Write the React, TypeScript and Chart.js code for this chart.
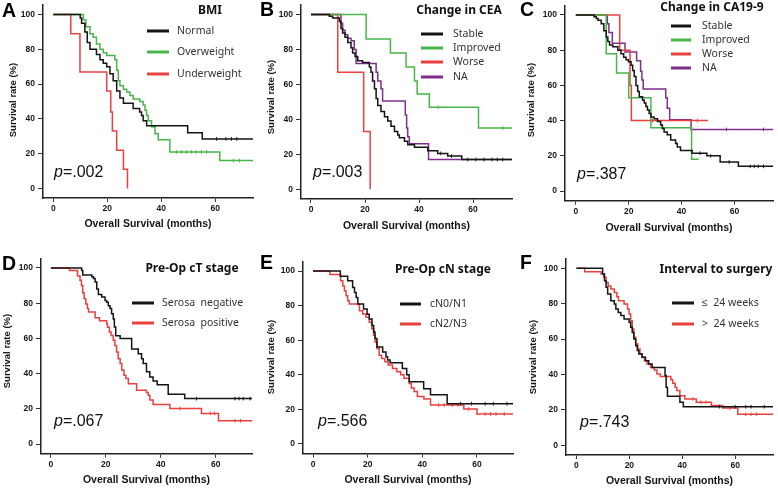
import { useEffect, useRef } from 'react';
import { Chart, registerables } from 'chart.js';

Chart.register(...registerables);

type KM = [number, number][];

// Kaplan-Meier steps: [month, survival % from that month on]
const A_NORMAL: KM = [[0, 100], [10, 98], [10.5, 95], [11.7, 90], [12.6, 84], [13.6, 80], [16, 77], [17.3, 74], [18.5, 72], [19.8, 70], [21, 66], [22.2, 62], [23.5, 56], [24.7, 52], [26, 49], [29.6, 46], [32, 44], [32.7, 42], [33.3, 39], [34.6, 36], [49.8, 32], [55.2, 28.5], [74, 28.5]];
const A_OVER: KM = [[0, 100], [11.1, 97], [12.1, 93], [13.6, 89], [14.8, 87], [16, 83], [17.3, 80], [18.5, 78], [19.8, 76.5], [22.8, 74], [23.5, 68], [24.1, 62], [24.7, 59], [26, 57], [27.2, 55.5], [28.4, 53.5], [29.6, 51.5], [32, 50], [33.3, 48], [34, 45], [34.6, 42], [35.2, 39], [36.4, 35.5], [37.7, 31.5], [38.9, 28], [43.2, 21], [61.7, 16], [74, 16]];
const A_UNDER: KM = [[0, 100], [6.5, 89], [9.9, 67], [19.8, 56], [21.3, 44], [21.9, 33], [23.5, 22], [26, 11], [27.5, 0]];
const A_NORMAL_CENS = [60.5, 64, 66, 68];
const A_OVER_CENS = [45.7, 47.5, 49.4, 51.2, 53, 54.9, 56.8, 66.7, 69];

const B_STABLE: KM = [[0, 100], [6.8, 99], [8, 98], [10.5, 96], [11.1, 92], [11.7, 89.5], [12.6, 87], [13.6, 84], [14.8, 81], [15.4, 78], [16.3, 76], [17.3, 73.5], [19.1, 72.5], [21.6, 70], [22.2, 67], [22.8, 62], [23.5, 57.5], [24.1, 52], [24.7, 48], [25.9, 44.5], [27.2, 41.5], [28.4, 39], [29.6, 36], [30.9, 33], [32.1, 31], [32.7, 29.5], [34.6, 27.5], [35.8, 25.5], [38.3, 24], [43.2, 22], [46.9, 20.5], [50.6, 19], [55.8, 17], [74.4, 17]];
const B_IMPROVED: KM = [[0, 100], [20.4, 86], [29.4, 78], [35.2, 70], [38.3, 62], [39.3, 54.5], [43.8, 47], [62, 35], [74.4, 35]];
const B_WORSE: KM = [[0, 100], [9.9, 67], [19.5, 33], [21.9, 0]];
const B_NA: KM = [[0, 100], [11.1, 95], [11.7, 91], [12.6, 88.5], [13.6, 86.5], [14.8, 85], [16, 80], [16.7, 72], [24.1, 67], [24.7, 62], [25.9, 57.5], [26.5, 50.5], [34.9, 42.5], [35.4, 35], [35.8, 30], [36.4, 26], [43.5, 17], [74.4, 17]];
const B_STABLE_CENS = [48, 52, 58, 61, 64, 67, 69, 71];
const B_IMPROVED_CENS = [47, 71];

const C_STABLE: KM = [[0, 100], [6.9, 99], [7.75, 98], [8.4, 97], [9.6, 95], [10.6, 91], [11.5, 87.5], [12.1, 85], [12.75, 83], [14, 82], [15.9, 80], [17.1, 78], [18.1, 76], [19, 74.5], [19.9, 73.5], [20.9, 71.5], [21.5, 68.5], [22.1, 65], [22.75, 60], [23.4, 56.5], [24, 53.5], [25.25, 51.5], [25.9, 50], [26.5, 48], [27.1, 46], [27.75, 44], [28.4, 42], [29.6, 41], [30.9, 39.5], [32.1, 37.5], [32.75, 35.5], [33.4, 33.5], [34.6, 32], [35.9, 29], [37.75, 27], [38.4, 25], [39.6, 23], [44, 21.5], [49.6, 20], [54.6, 16.5], [61.5, 14], [74.6, 14]];
const C_IMPROVED: KM = [[0, 100], [11.5, 78], [15.4, 67], [20, 53], [28.4, 36], [43.8, 18], [46.5, 18]];
const C_WORSE: KM = [[0, 100], [16.6, 80], [20.5, 60], [21, 40], [50, 40]];
const C_NA: KM = [[0, 100], [11.9, 95], [12.5, 90], [13.8, 84], [18.6, 79], [23, 74], [24.5, 68], [25, 63], [25.5, 58], [34, 53], [34.6, 47], [35.5, 40.5], [43.6, 35], [74.6, 35]];
const C_STABLE_CENS = [47, 51, 58, 66, 67.5, 69, 71];
const C_WORSE_CENS = [29, 46];
const C_NA_CENS = [57, 71];

const D_NEG: KM = [[0, 100], [11.2, 98.5], [11.6, 96], [14.9, 95], [15.5, 94], [16.1, 92], [16.7, 88], [17.3, 85], [18.5, 83.5], [19.7, 81.5], [20.3, 80.5], [20.9, 78.5], [21.5, 77], [22.1, 74], [22.7, 71], [23.1, 66.5], [23.6, 61.5], [25.2, 60], [29.4, 54], [31.8, 51.3], [33, 48.5], [33.6, 45.7], [34.8, 41], [36, 38], [37.2, 35.8], [38.7, 33.6], [42.7, 28.3], [48.7, 25.8], [73.2, 25.8]];
const D_POS: KM = [[0, 100], [6.8, 98.5], [9.7, 95.5], [10.6, 93], [11.1, 90], [11.6, 86], [12.1, 82.5], [12.7, 79.5], [13.3, 77], [13.7, 75], [16.1, 71.7], [17.7, 70], [20.3, 68.3], [20.6, 66.4], [21.3, 63.6], [21.9, 61.7], [22.7, 59], [23.3, 56], [23.9, 52.3], [24.5, 48.5], [25.2, 45.7], [25.8, 42], [26.6, 39], [27.3, 37.2], [28.2, 34.3], [31.2, 30.6], [34.8, 29.2], [35.4, 27.7], [36, 25], [37.2, 22.5], [43.3, 20.2], [54.8, 17.4], [61, 13.2], [73.2, 13.2]];
const D_NEG_CENS = [53, 67, 68.5, 70, 72.5];
const D_POS_CENS = [47, 58, 59.5, 67, 69];

const E_N01: KM = [[0, 100], [10, 97], [12.7, 94.3], [14.5, 90.5], [15.2, 87.6], [15.8, 84.7], [16.4, 81], [18.5, 78], [19.8, 75], [20.6, 72.3], [21.6, 68.5], [22.2, 64.7], [22.7, 61], [23.4, 56], [25.5, 53.2], [26.7, 50.4], [27.3, 48.5], [28.2, 47], [32.7, 43.7], [34.3, 40], [35.2, 36], [40.5, 32], [43, 28.4], [49.1, 23.3], [73.2, 23.3]];
const E_N23: KM = [[0, 100], [6.2, 98], [10.1, 94.3], [10.9, 91.4], [11.5, 88.5], [12.1, 85.7], [12.7, 82.8], [13.3, 81], [17, 77], [18.2, 75.2], [19.4, 73.3], [20.6, 70.4], [21.5, 66.6], [22.2, 62.8], [22.7, 59], [23.4, 55.2], [24.2, 51.3], [25.1, 49.4], [26.3, 47.5], [27.5, 45.6], [29.1, 43.7], [30.7, 41.8], [32.1, 40], [33.3, 38], [35.2, 35], [36, 32.3], [37, 30.3], [38.2, 27.5], [40.6, 26], [43, 22.5], [55.2, 20.2], [60, 17.4], [73.2, 17.4]];
const E_N01_CENS = [54, 58, 63, 66, 71];
const E_N23_CENS = [46, 48, 51, 53, 57, 63, 65, 67, 70];

const F_LE24: KM = [[0, 100], [9.9, 96.8], [10.6, 93], [11.2, 89.3], [11.8, 85.5], [13, 81.7], [14.3, 79.8], [14.9, 77], [15.8, 75], [16.8, 73.3], [18, 71.4], [19.9, 69.5], [20.5, 66.7], [21.1, 63.8], [21.7, 60], [22.4, 56.3], [23, 53.5], [23.6, 51.6], [24.8, 49.7], [26.1, 47.8], [27.3, 46], [28.6, 44], [33.5, 39.4], [33.9, 32.8], [34.4, 27.7], [39.1, 24.3], [40.4, 21.8], [74.3, 21.8]];
const F_GT24: KM = [[0, 100], [3.1, 98], [9.3, 96.8], [10.3, 95], [11.2, 92], [12, 90], [13, 88.3], [14.3, 86.4], [15.3, 84], [15.9, 81.7], [18, 79.8], [19.3, 77], [19.9, 74.2], [20.5, 70.4], [21.1, 65.7], [21.7, 61], [22.4, 57.3], [23.2, 54.4], [24, 51.6], [24.8, 49.7], [25.7, 47.8], [26.7, 46], [28, 44], [29.4, 42.6], [30.4, 40.3], [31.7, 38.8], [35.7, 37], [36.4, 35], [37.3, 32.8], [37.9, 31], [39.1, 28], [41, 26.2], [45.3, 24.3], [51, 22.5], [55.3, 21], [61, 17.5], [74.3, 17.5]];
const F_LE24_CENS = [54, 60, 64, 66, 71];
const F_GT24_CENS = [44, 47, 49, 58, 64, 66, 68];

const Y_TICKS = [0, 20, 40, 60, 80, 100];
const X_TICKS = [0, 20, 40, 60];

const BLACK = '#141414';
const GREEN = '#46b64a';
const RED = '#e8413f';
const PURPLE = '#7e2f8c';

const AXIS_FONT = "'Liberation Sans', Arial, sans-serif";
const LEGEND_FONT = "'Noto Sans', sans-serif";

interface Series { label: string; color: string; curve: KM; censor: number[] }
interface Panel {
  letter: string; title: string; p: string; series: Series[];
  left: number; top: number; w: number; h: number;
  area: { l: number; t: number; r: number; b: number };
  xMin: number; xMax: number;
  letterY: number; titleX: number; titleY: number;
  legX1: number; legX2: number; legTX: number; legRows: number[];
  pX: number; pY: number; yTitleX: number; yTitleY: number; xTitleY: number;
}

const PANELS: Panel[] = [
  {
    letter: 'A', title: 'BMI', p: '.002',
    series: [
      { label: 'Normal', color: BLACK, curve: A_NORMAL, censor: A_NORMAL_CENS },
      { label: 'Overweight', color: GREEN, curve: A_OVER, censor: A_OVER_CENS },
      { label: 'Underweight', color: RED, curve: A_UNDER, censor: [] },
    ],
    left: 0, top: 0, w: 258, h: 244, area: { l: 43, t: 4.4, r: 253, b: 198 }, xMin: -3.8, xMax: 74,
    letterY: 17, titleX: 210, titleY: 11, legX1: 147, legX2: 169, legTX: 177, legRows: [31, 52, 74],
    pX: 54, pY: 173, yTitleX: 13, yTitleY: 100, xTitleY: 224,
  },
  {
    letter: 'B', title: 'Change in CEA', p: '.003',
    series: [
      { label: 'Stable', color: BLACK, curve: B_STABLE, censor: B_STABLE_CENS },
      { label: 'Improved', color: GREEN, curve: B_IMPROVED, censor: B_IMPROVED_CENS },
      { label: 'Worse', color: RED, curve: B_WORSE, censor: [] },
      { label: 'NA', color: PURPLE, curve: B_NA, censor: [] },
    ],
    left: 258, top: 0, w: 260, h: 244, area: { l: 43, t: 1.2, r: 254, b: 198.8 }, xMin: -3.7, xMax: 74.4,
    letterY: 16, titleX: 201, titleY: 11, legX1: 163, legX2: 185, legTX: 195, legRows: [34, 48, 62, 77],
    pX: 55, pY: 173, yTitleX: 13, yTitleY: 97, xTitleY: 226,
  },
  {
    letter: 'C', title: 'Change in CA19-9', p: '.387',
    series: [
      { label: 'Stable', color: BLACK, curve: C_STABLE, censor: C_STABLE_CENS },
      { label: 'Improved', color: GREEN, curve: C_IMPROVED, censor: [] },
      { label: 'Worse', color: RED, curve: C_WORSE, censor: C_WORSE_CENS },
      { label: 'NA', color: PURPLE, curve: C_NA, censor: C_NA_CENS },
    ],
    left: 518, top: 0, w: 260, h: 244, area: { l: 47, t: 5.3, r: 257, b: 200.7 }, xMin: -4.1, xMax: 74.6,
    letterY: 16, titleX: 194, titleY: 8, legX1: 153, legX2: 173, legTX: 184, legRows: [26, 40, 54, 68],
    pX: 59, pY: 175, yTitleX: 13, yTitleY: 100, xTitleY: 228,
  },
  {
    letter: 'D', title: 'Pre-Op cT stage', p: '.067',
    series: [
      { label: 'Serosa  negative', color: BLACK, curve: D_NEG, censor: D_NEG_CENS },
      { label: 'Serosa  positive', color: RED, curve: D_POS, censor: D_POS_CENS },
    ],
    left: 0, top: 244, w: 258, h: 244, area: { l: 41, t: 14.3, r: 252, b: 209.7 }, xMin: -3.6, xMax: 73.2,
    letterY: 26, titleX: 192, titleY: 25, legX1: 132, legX2: 154, legTX: 162, legRows: [59, 79],
    pX: 54, pY: 178, yTitleX: 7, yTitleY: 107, xTitleY: 236,
  },
  {
    letter: 'E', title: 'Pre-Op cN stage', p: '.566',
    series: [
      { label: 'cN0/N1', color: BLACK, curve: E_N01, censor: E_N01_CENS },
      { label: 'cN2/N3', color: RED, curve: E_N23, censor: E_N23_CENS },
    ],
    left: 258, top: 244, w: 260, h: 244, area: { l: 45, t: 17.5, r: 255, b: 209.5 }, xMin: -3.66, xMax: 73.2,
    letterY: 25, titleX: 185, titleY: 26, legX1: 142, legX2: 163, legTX: 172, legRows: [60, 80],
    pX: 60, pY: 178, yTitleX: 13, yTitleY: 113, xTitleY: 236,
  },
  {
    letter: 'F', title: 'Interval to surgery', p: '.743',
    series: [
      { label: '≤  24 weeks', color: BLACK, curve: F_LE24, censor: F_LE24_CENS },
      { label: '>  24 weeks', color: RED, curve: F_GT24, censor: F_GT24_CENS },
    ],
    left: 518, top: 244, w: 260, h: 244, area: { l: 48, t: 14.6, r: 258, b: 211 }, xMin: -3.95, xMax: 74.3,
    letterY: 25, titleX: 198, titleY: 26, legX1: 154, legX2: 176, legTX: 184, legRows: [59, 80],
    pX: 62, pY: 179, yTitleX: 15, yTitleY: 113, xTitleY: 237,
  },
];

function survAt(curve: KM, t: number) {
  let s = curve[0][1];
  for (const [x, y] of curve) if (x <= t) s = y;
  return s;
}

function KMPanel({ panel }: { panel: Panel }) {
  const canvasRef = useRef<HTMLCanvasElement>(null);

  useEffect(() => {
    if (!canvasRef.current) return;
    const pn = panel;
    const datasets: any[] = [];
    pn.series.forEach((s) => {
      datasets.push({
        type: 'line',
        data: s.curve.map(([x, y]) => ({ x, y })),
        stepped: 'before',
        borderColor: s.color,
        borderWidth: 1.5,
        pointRadius: 0,
        fill: false,
      });
      if (s.censor.length) {
        datasets.push({
          type: 'scatter',
          data: s.censor.map((t) => ({ x: t, y: survAt(s.curve, t) })),
          pointStyle: 'line',
          rotation: 90,
          pointRadius: 1.8,
          borderColor: s.color,
          borderWidth: 1,
          showLine: false,
        });
      }
    });

    const zeroPad = (scale: any) => {
      scale.paddingLeft = 0; scale.paddingRight = 0; scale.paddingTop = 0; scale.paddingBottom = 0;
    };
    const tickFont = { family: AXIS_FONT, size: 8.5, weight: 'bold' as const };

    const decor = {
      id: 'decor',
      afterDraw(chart: Chart) {
        const ctx = chart.ctx;
        const a = chart.chartArea;
        ctx.save();
        ctx.fillStyle = '#000';
        ctx.font = `bold 19.5px ${AXIS_FONT}`;
        ctx.textAlign = 'left';
        ctx.textBaseline = 'alphabetic';
        ctx.fillText(pn.letter, 2, pn.letterY);

        ctx.fillStyle = '#111';
        ctx.font = `bold 12px ${LEGEND_FONT}`;
        ctx.textAlign = 'center';
        ctx.textBaseline = 'middle';
        ctx.fillText(pn.title, pn.titleX, pn.titleY);

        ctx.font = `10.5px ${LEGEND_FONT}`;
        ctx.textAlign = 'left';
        pn.series.forEach((s, i) => {
          const y = pn.legRows[i];
          ctx.strokeStyle = s.color;
          ctx.lineWidth = 3;
          ctx.beginPath();
          ctx.moveTo(pn.legX1, y);
          ctx.lineTo(pn.legX2, y);
          ctx.stroke();
          ctx.fillStyle = '#333';
          ctx.fillText(s.label, pn.legTX, y + 0.5);
        });

        ctx.fillStyle = '#111';
        ctx.font = `italic 16px ${AXIS_FONT}`;
        ctx.fillText('p', pn.pX, pn.pY);
        const pw = ctx.measureText('p').width;
        ctx.font = `16px ${AXIS_FONT}`;
        ctx.fillText('=' + pn.p, pn.pX + pw, pn.pY);

        ctx.fillStyle = '#151515';
        ctx.font = `bold 10.5px ${AXIS_FONT}`;
        ctx.textAlign = 'center';
        ctx.fillText('Overall Survival (months)', (a.left + a.right) / 2, pn.xTitleY);

        ctx.translate(pn.yTitleX, pn.yTitleY);
        ctx.rotate(-Math.PI / 2);
        ctx.font = `bold 9.5px ${AXIS_FONT}`;
        ctx.fillText('Survival rate (%)', 0, 0);
        ctx.restore();
      },
    };

    const chart = new Chart(canvasRef.current, {
      type: 'line',
      data: { datasets },
      options: {
        animation: false,
        responsive: false,
        events: [],
        layout: { padding: { left: 0, top: pn.area.t, right: pn.w - pn.area.r, bottom: 0 } },
        plugins: { legend: { display: false }, tooltip: { enabled: false } },
        scales: {
          x: {
            type: 'linear',
            min: pn.xMin,
            max: pn.xMax,
            afterBuildTicks: (s: any) => { s.ticks = X_TICKS.map((value) => ({ value })); },
            afterFit: (s: any) => { s.height = pn.h - pn.area.b; zeroPad(s); },
            ticks: { font: tickFont, color: '#151515', padding: 2, maxRotation: 0, autoSkip: false },
            grid: { drawOnChartArea: false, drawTicks: true, tickLength: 4, color: '#333' },
            border: { display: true, color: '#222', width: 1.5 },
          },
          y: {
            type: 'linear',
            min: -5.5,
            max: 105.5,
            afterBuildTicks: (s: any) => { s.ticks = Y_TICKS.map((value) => ({ value })); },
            afterFit: (s: any) => { s.width = pn.area.l; zeroPad(s); },
            ticks: { font: tickFont, color: '#151515', padding: 3, autoSkip: false },
            grid: { drawOnChartArea: false, drawTicks: true, tickLength: 5, color: '#333' },
            border: { display: true, color: '#222', width: 1.5 },
          },
        },
      },
      plugins: [decor],
    } as any);

    return () => chart.destroy();
  }, [panel]);

  return (
    <div style={{ position: 'absolute', left: panel.left, top: panel.top, width: panel.w, height: panel.h }}>
      <canvas ref={canvasRef} width={panel.w} height={panel.h} style={{ width: panel.w, height: panel.h }} />
    </div>
  );
}

export default function App() {
  return (
    <div style={{ position: 'absolute', left: 0, top: 0, width: 778, height: 488, background: '#fff' }}>
      {PANELS.map((p) => (
        <KMPanel key={p.letter} panel={p} />
      ))}
    </div>
  );
}
